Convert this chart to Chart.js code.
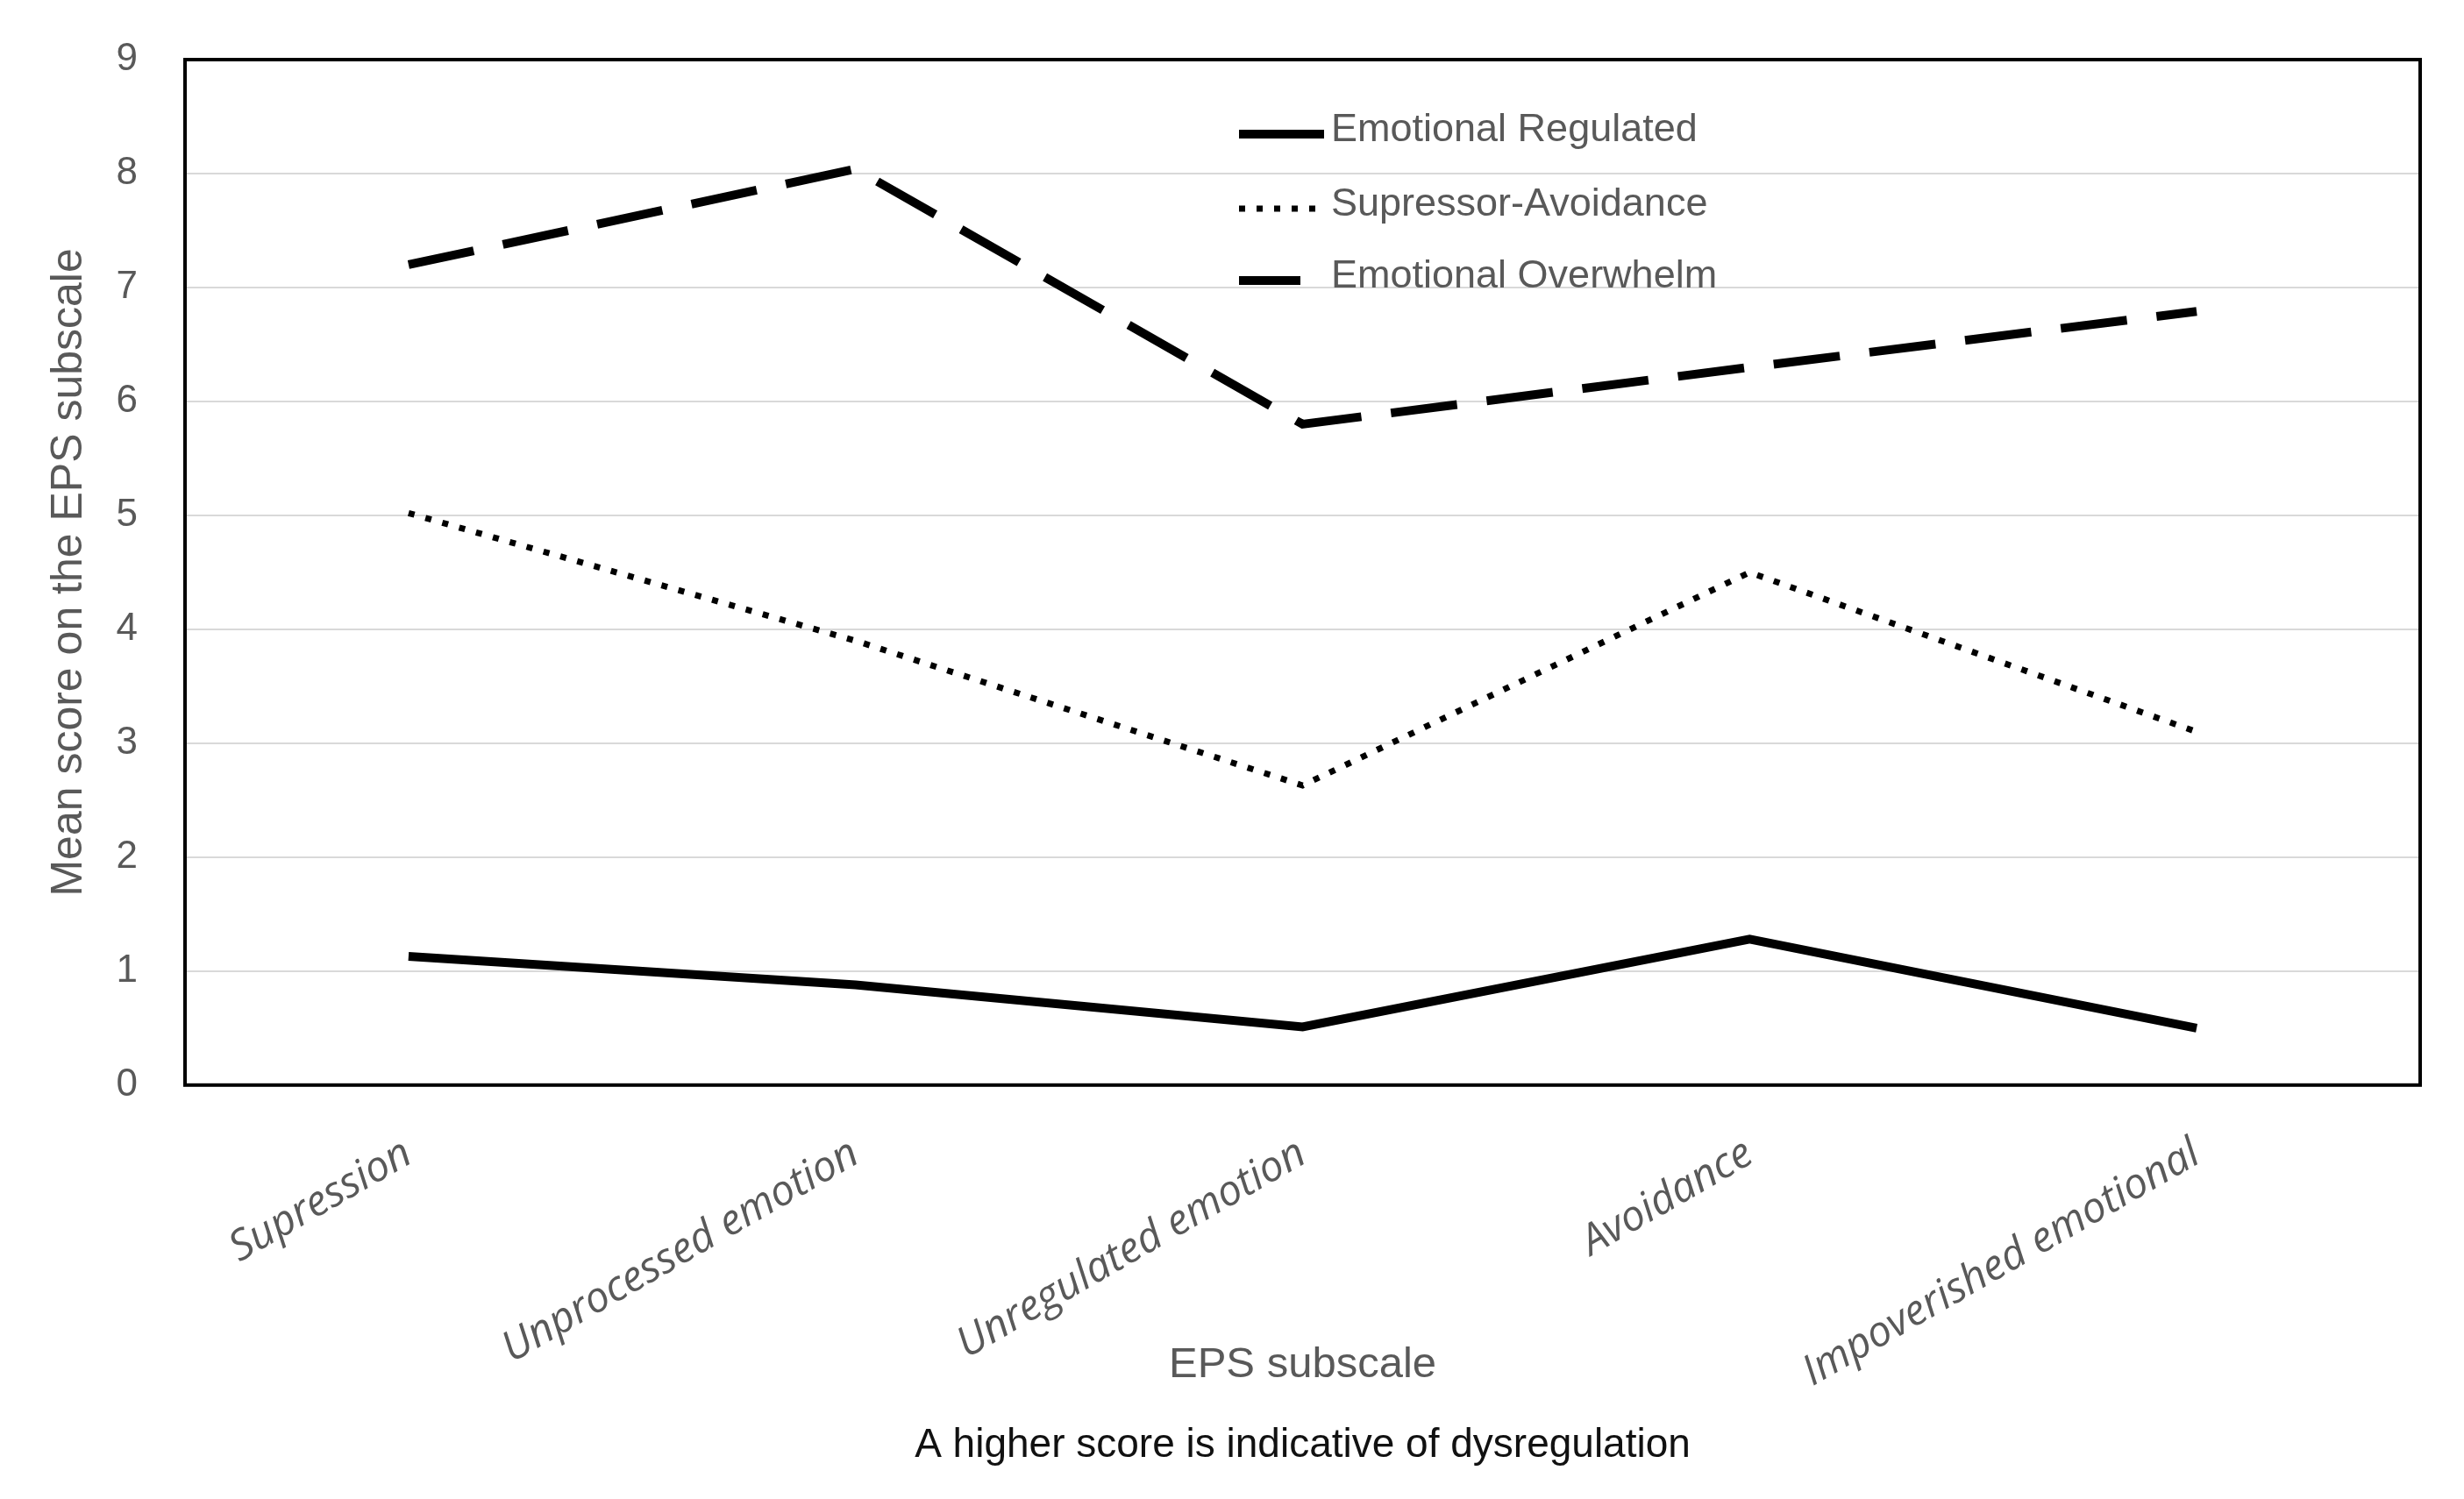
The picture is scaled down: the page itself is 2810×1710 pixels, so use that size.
<!DOCTYPE html>
<html>
<head>
<meta charset="utf-8">
<script src="https://cdn.jsdelivr.net/npm/chart.js@4.4.0/dist/chart.umd.min.js"></script>
<style>
  body { margin: 0; background: #fff; }
  canvas { display: block; }
</style>
</head>
<body>
<canvas id="grafica" width="2810" height="1710"></canvas>
<script>
// datos
const subescalas = ["Supression", "Unprocessed emotion", "Unregulated emotion", "Avoidance", "Impoverished emotional"];
const regulated = [1.13, 0.88, 0.51, 1.28, 0.50];
const supresor = [5.02, 3.9, 2.63, 4.5, 3.1];
const overwhelm = [7.2, 8.04, 5.8, 6.3, 6.79];
const ticksY = ["0", "1", "2", "3", "4", "5", "6", "7", "8", "9"];

const gris = '#595959';
const fuente = '"Liberation Sans", Arial, sans-serif';

// marco negro alrededor del area del grafico
const marco = {
  id: 'marco',
  afterDatasetsDraw(chart) {
    const ctx = chart.ctx;
    const a = chart.chartArea;
    ctx.save();
    ctx.strokeStyle = '#000';
    ctx.lineWidth = 4;
    ctx.strokeRect(a.left, a.top, a.right - a.left, a.bottom - a.top);
    ctx.restore();
  }
};

// leyenda dentro del grafico
const leyenda = {
  id: 'leyenda',
  afterDatasetsDraw(chart) {
    const ctx = chart.ctx;
    const largos = [97, 87, 70];
    const filas = [153, 238, 320];
    chart.data.datasets.forEach((ds, i) => {
      ctx.save();
      ctx.strokeStyle = ds.borderColor;
      ctx.lineWidth = ds.borderWidth;
      ctx.setLineDash(ds.borderDash || []);
      ctx.beginPath();
      ctx.moveTo(1413, filas[i]);
      ctx.lineTo(1413 + largos[i], filas[i]);
      ctx.stroke();
      ctx.setLineDash([]);
      ctx.fillStyle = gris;
      ctx.font = '45px "Liberation Sans Narrow", "Liberation Sans", sans-serif';
      ctx.textBaseline = 'middle';
      ctx.fillText(ds.label, 1518, filas[i] - 4);
      ctx.restore();
    });
  }
};

const config = {
  type: 'line',
  data: {
    labels: subescalas,
    datasets: [
      { label: 'Emotional Regulated', data: regulated, borderColor: '#000', borderWidth: 10 },
      { label: 'Supressor-Avoidance', data: supresor, borderColor: '#000', borderWidth: 7, borderDash: [7, 13] },
      { label: 'Emotional Overwhelm', data: overwhelm, borderColor: '#000', borderWidth: 10, borderDash: [76, 34] }
    ]
  },
  options: {
    responsive: false,
    animation: false,
    devicePixelRatio: 1,
    layout: { padding: { top: 68, right: 50, left: 0, bottom: 0 } },
    elements: {
      point: { radius: 0 },
      line: { tension: 0, fill: false, borderCapStyle: 'butt', borderJoinStyle: 'miter' }
    },
    scales: {
      x: {
        offset: true,
        grid: { display: false, drawTicks: false },
        border: { display: false },
        ticks: {
          autoSkip: false, minRotation: 30, maxRotation: 30, padding: 50, color: gris,
          font: { family: '"Open Sans", sans-serif', style: 'italic', size: 48 }
        },
        title: {
          display: true, text: 'EPS subscale', color: gris,
          font: { family: fuente, size: 49 }, padding: { top: 0, bottom: 35 }
        },
        afterFit(scale) { scale.height = 384; }
      },
      y: {
        min: 0, max: 9,
        grid: { color: '#d9d9d9', lineWidth: 2, drawTicks: false },
        border: { display: false },
        ticks: {
          stepSize: 1, padding: 54, color: gris, font: { family: fuente, size: 44 },
          callback: (v) => ticksY[v]
        },
        title: {
          display: true, text: 'Mean score on the EPS subscale', color: gris,
          font: { family: fuente, size: 50 }, padding: { top: 49, bottom: 0 }
        },
        afterFit(scale) {
          scale.width = 211;
          scale.paddingTop = 0;
          scale.paddingBottom = 0;
        }
      }
    },
    plugins: {
      legend: { display: false },
      tooltip: { enabled: false },
      title: {
        display: true, position: 'bottom', fullSize: false,
        text: 'A higher score is indicative of dysregulation',
        color: '#111', font: { family: fuente, size: 46, weight: 'normal' }, padding: { top: 0, bottom: 33 }
      }
    }
  },
  plugins: [marco, leyenda]
};

const ctx = document.getElementById('grafica');
const migrafica = new Chart(ctx, config);
</script>
</body>
</html>
